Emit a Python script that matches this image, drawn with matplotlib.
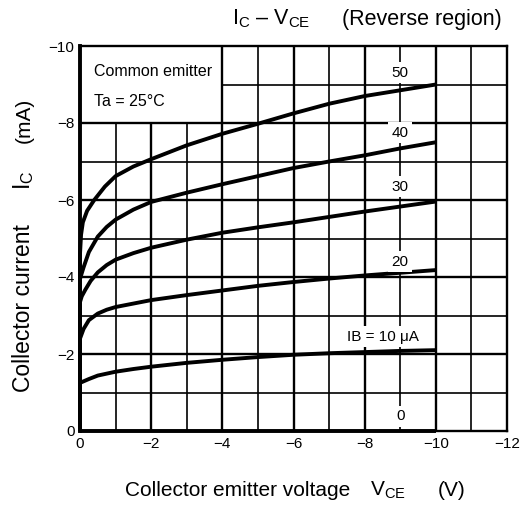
import matplotlib
matplotlib.use('Agg')
import matplotlib.pyplot as plt

plt.rcParams['font.family'] = ['Liberation Sans', 'DejaVu Sans']
plt.rcParams['mathtext.fontset'] = 'custom'
plt.rcParams['mathtext.rm'] = 'Liberation Sans'
plt.rcParams['mathtext.it'] = 'Liberation Sans:italic'

# IC - VCE curves, one per base current
vce_ib0 = [0, -10]
ic_ib0 = [0, 0]

vce_ib10 = [0, 0, -0.25, -0.5, -1, -1.5, -2, -3, -4, -5, -6, -7, -8, -9, -10]
ic_ib10 = [0, -1.25, -1.35, -1.44, -1.54, -1.61, -1.67, -1.77, -1.85, -1.92, -1.98, -2.02, -2.05, -2.08, -2.1]

vce_ib20 = [0, 0, -0.1, -0.25, -0.5, -0.75, -1, -1.5, -2, -3, -4, -5, -6, -7, -8, -9, -10]
ic_ib20 = [0, -2.4, -2.65, -2.88, -3.05, -3.15, -3.22, -3.31, -3.4, -3.53, -3.65, -3.77, -3.87, -3.96, -4.04, -4.11, -4.18]

vce_ib30 = [0, 0, -0.05, -0.15, -0.3, -0.5, -0.75, -1, -1.5, -2, -3, -4, -5, -6, -7, -8, -9, -10]
ic_ib30 = [0, -3.35, -3.5, -3.67, -3.9, -4.12, -4.31, -4.45, -4.62, -4.76, -4.97, -5.15, -5.29, -5.42, -5.56, -5.7, -5.83, -5.96]

vce_ib40 = [0, 0, -0.05, -0.1, -0.25, -0.5, -0.75, -1, -1.5, -2, -3, -4, -5, -6, -7, -8, -9, -10]
ic_ib40 = [0, -3.95, -4.1, -4.25, -4.65, -5.05, -5.3, -5.49, -5.75, -5.95, -6.19, -6.41, -6.62, -6.83, -7.0, -7.16, -7.34, -7.5]

vce_ib50 = [0, 0, -0.03, -0.08, -0.2, -0.4, -0.7, -1, -1.5, -2, -3, -4, -5, -6, -7, -8, -9, -10]
ic_ib50 = [0, -4.6, -5.1, -5.42, -5.72, -6.0, -6.35, -6.62, -6.87, -7.06, -7.42, -7.72, -7.98, -8.25, -8.5, -8.7, -8.85, -9.0]

curve_labels = ['0', 'IB = 10 μA', '20', '30', '40', '50']
x_ticks = [0, -2, -4, -6, -8, -10, -12]
y_ticks = [0, -2, -4, -6, -8, -10]

fig = plt.figure(figsize=(5.23, 5.08), dpi=100)
ax = fig.add_axes([80 / 523, 1 - 431 / 508, 427 / 523, 385 / 508])
ax.set_xlim(0, -12)
ax.set_ylim(0, -10)

# grid, left open behind the "Common emitter" box
for v in range(-1, -12, -1):
    lw = 1.7 if v % 2 == 0 else 1.2
    top = -8 if v > -4 else -10
    ax.vlines(v, 0, top, color='black', lw=lw, zorder=1)
for c in range(-1, -10, -1):
    lw = 1.7 if c % 2 == 0 else 1.2
    left = -4 if c < -8 else 0
    ax.hlines(c, left, -12, color='black', lw=lw, zorder=1)

curves = [(vce_ib0, ic_ib0), (vce_ib10, ic_ib10), (vce_ib20, ic_ib20),
          (vce_ib30, ic_ib30), (vce_ib40, ic_ib40), (vce_ib50, ic_ib50)]
for x, y in curves:
    ax.plot(x, y, color='black', lw=2.8, solid_capstyle='butt', zorder=3, clip_on=False)

label_pos = [(-9, -0.38), (-8.5, -2.45), (-9, -4.4), (-9, -6.35), (-9, -7.75), (-9, -9.3)]
for (x, y), t in zip(label_pos, curve_labels):
    ax.text(x, y, t, ha='center', va='center', fontsize=11, zorder=4,
            bbox=dict(facecolor='white', edgecolor='none', pad=2.5))

ax.text(-0.4, -9.35, 'Common emitter', ha='left', va='center', fontsize=11.5)
ax.text(-0.4, -8.55, 'Ta = 25°C', ha='left', va='center', fontsize=11.5)

ax.set_xticks(x_ticks)
ax.set_yticks(y_ticks)
ax.set_xticklabels(['0' if v == 0 else '\u2212%d' % -v for v in x_ticks])
ax.set_yticklabels(['0' if v == 0 else '\u2212%d' % -v for v in y_ticks])
ax.tick_params(length=0, labelsize=11, pad=4)

for s in ['top', 'right', 'bottom']:
    ax.spines[s].set_linewidth(1.7)
ax.spines['left'].set_linewidth(2.8)

# title and axis labels
fig.text(232 / 523, 1 - 19 / 508, r'I$_\mathrm{C}$ – V$_\mathrm{CE}$', ha='left', va='center', fontsize=15.5)
fig.text(342 / 523, 1 - 19 / 508, '(Reverse region)', ha='left', va='center', fontsize=15.5)

fig.text(125 / 523, 1 - 490 / 508, 'Collector emitter voltage', ha='left', va='center', fontsize=15)
fig.text(370 / 523, 1 - 490 / 508, r'V$_\mathrm{CE}$', ha='left', va='center', fontsize=15)
fig.text(438 / 523, 1 - 490 / 508, '(V)', ha='left', va='center', fontsize=15)

fig.text(24 / 523, 1 - 392 / 508, 'Collector current', ha='center', va='bottom', rotation=90, fontsize=16.5)
fig.text(24 / 523, 1 - 190 / 508, r'I$_\mathrm{C}$', ha='center', va='bottom', rotation=90, fontsize=16.5)
fig.text(24 / 523, 1 - 143 / 508, '(mA)', ha='center', va='bottom', rotation=90, fontsize=15)

fig.savefig('out.png', dpi=100)
